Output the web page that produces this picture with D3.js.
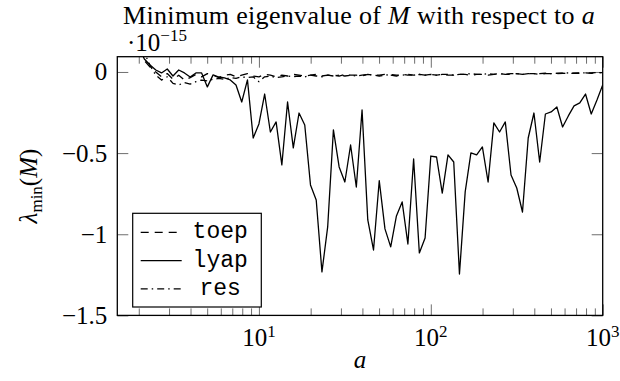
<!DOCTYPE html>
<html>
<head>
<meta charset="utf-8">
<script src="https://cdn.jsdelivr.net/npm/d3@7"></script>
<style>
  body { margin: 0; background: #fff; }
  text { font-family: "Liberation Serif", "Times New Roman", serif; fill: #000; }
  text.mono { font-family: "Liberation Mono", "DejaVu Sans Mono", monospace; }
  .axis path { display: none; }
  .axis line { stroke: #6e6e6e; stroke-width: 1; }
</style>
</head>
<body>
<svg id="chart"></svg>
<script>
// sample points a = 10^(k/30), k = 9..90
const aValues = [
  1.9953, 2.1544, 2.3263, 2.5119, 2.7123, 2.9286, 3.1623, 3.4146, 3.6869, 3.9811,
  4.2987, 4.6416, 5.0119, 5.4117, 5.8434, 6.3096, 6.8129, 7.3564, 7.9433, 8.5770,
  9.2612, 10, 10.798, 11.659, 12.589, 13.594, 14.678, 15.849, 17.113, 18.478,
  19.953, 21.544, 23.263, 25.119, 27.123, 29.286, 31.623, 34.146, 36.869, 39.811,
  42.987, 46.416, 50.119, 54.117, 58.434, 63.096, 68.129, 73.564, 79.433, 85.770,
  92.612, 100, 107.98, 116.59, 125.89, 135.94, 146.78, 158.49, 171.13, 184.78,
  199.53, 215.44, 232.63, 251.19, 271.23, 292.86, 316.23, 341.46, 368.69, 398.11,
  429.87, 464.16, 501.19, 541.17, 584.34, 630.96, 681.29, 735.64, 794.33, 857.70,
  926.12, 1000
];

// values in units of 1e-15
const toepValues = [
  0.14, 0.07, 0.03, 0.0, -0.03, -0.01, -0.045, -0.02, -0.05, -0.035,
  -0.015, -0.03, -0.01, -0.02, -0.035, -0.02, -0.015, -0.03, -0.02, -0.01,
  -0.025, -0.03, -0.015, -0.02, -0.03, -0.02, -0.025, -0.015, -0.02, -0.025,
  -0.02, -0.015, -0.025, -0.02, -0.02, -0.025, -0.015, -0.02, -0.02, -0.025,
  -0.015, -0.02, -0.02, -0.015, -0.02, -0.025, -0.015, -0.02, -0.02, -0.015,
  -0.02, -0.015, -0.02, -0.015, -0.02, -0.02, -0.015, -0.015, -0.02, -0.015,
  -0.015, -0.02, -0.015, -0.01, -0.015, -0.015, -0.01, -0.015, -0.01, -0.01,
  -0.015, -0.01, -0.01, -0.01, -0.008, -0.01, -0.008, -0.008, -0.006, -0.008,
  -0.005, -0.004
];

const lyapValues = [
  0.16, 0.08, 0.043, 0.012, -0.006, 0.018, -0.025, 0.012, -0.006, -0.031,
  -0.006, -0.006, -0.092, -0.018, -0.031, -0.037, -0.049, -0.08, -0.185, -0.049,
  -0.407, -0.32, -0.136, -0.37, -0.308, -0.573, -0.185, -0.468, -0.253, -0.327,
  -0.696, -0.789, -1.232, -0.955, -0.357, -0.585, -0.678, -0.45, -0.709, -0.234,
  -0.912, -1.097, -0.67, -0.967, -1.078, -0.887, -0.801, -1.06, -0.536, -1.115,
  -1.023, -0.518, -0.524, -0.746, -0.511, -0.555, -1.245, -0.739, -0.499, -0.511,
  -0.462, -0.678, -0.314, -0.37, -0.308, -0.635, -0.715, -0.863, -0.407, -0.253,
  -0.555, -0.259, -0.246, -0.216, -0.339, -0.271, -0.209, -0.191, -0.136, -0.259,
  -0.173, -0.08
];

const resValues = [
  0.25, 0.12, 0.04, -0.02, -0.05, -0.03, -0.07, -0.08, -0.065, -0.075,
  -0.06, -0.05, -0.055, -0.045, -0.04, -0.045, -0.035, -0.04, -0.03, -0.035,
  -0.03, -0.06, -0.03, -0.025, -0.035, -0.03, -0.025, -0.03, -0.025, -0.03,
  -0.02, -0.025, -0.03, -0.02, -0.025, -0.02, -0.025, -0.02, -0.025, -0.02,
  -0.015, -0.02, -0.025, -0.02, -0.015, -0.02, -0.02, -0.015, -0.02, -0.015,
  -0.02, -0.015, -0.02, -0.015, -0.015, -0.02, -0.015, -0.015, -0.01, -0.015,
  -0.015, -0.01, -0.015, -0.01, -0.015, -0.01, -0.01, -0.015, -0.01, -0.01,
  -0.01, -0.008, -0.01, -0.008, -0.008, -0.006, -0.008, -0.006, -0.005, -0.006,
  -0.004, -0.004
];

const seriesNames = ['toep', 'lyap', 'res'];
const seriesDash = ['8,6', null, '7,4,1.5,4'];

const yTickValues = [0, -0.5, -1, -1.5];
const yTickLabels = ['0', '\u22120.5', '\u22121', '\u22121.5'];
const xTickValues = [10, 100, 1000];
const xTickExponents = ['1', '2', '3'];

const width = 620, height = 381;
const margin = {top: 56.7, right: 17.3, bottom: 65.6, left: 117.3};
const innerW = width - margin.left - margin.right;
const innerH = height - margin.top - margin.bottom;

const svg = d3.select('#chart').attr('width', width).attr('height', height);

const x = d3.scaleLog().domain([1.5, 1000]).range([0, innerW]);
const y = d3.scaleLinear().domain([-1.5, 0.094]).range([innerH, 0]);

const chart = svg.append('g')
    .attr('transform', `translate(${margin.left},${margin.top})`);

chart.append('clipPath').attr('id', 'clip')
  .append('rect').attr('width', innerW).attr('height', innerH);

// minor ticks on the log axis (2..9 per decade)
const minorTicks = x.ticks().filter(d => !xTickValues.includes(d));

// ticks, all drawn inward
const tickMajor = 11, tickMinor = 7;
chart.append('g').attr('class', 'axis')
    .attr('transform', `translate(0,${innerH})`)
    .call(d3.axisBottom(x).tickValues(xTickValues).tickSize(-tickMajor).tickFormat(''));
chart.append('g').attr('class', 'axis')
    .attr('transform', `translate(0,${innerH})`)
    .call(d3.axisBottom(x).tickValues(minorTicks).tickSize(-tickMinor).tickFormat(''));
chart.append('g').attr('class', 'axis')
    .call(d3.axisTop(x).tickValues(xTickValues).tickSize(-tickMajor).tickFormat(''));
chart.append('g').attr('class', 'axis')
    .call(d3.axisTop(x).tickValues(minorTicks).tickSize(-tickMinor).tickFormat(''));
chart.append('g').attr('class', 'axis')
    .call(d3.axisLeft(y).tickValues(yTickValues).tickSize(-tickMajor).tickFormat(''));
chart.append('g').attr('class', 'axis')
    .attr('transform', `translate(${innerW},0)`)
    .call(d3.axisRight(y).tickValues(yTickValues).tickSize(-tickMajor).tickFormat(''));

// y tick labels
chart.append('g')
    .selectAll('text')
    .data(yTickValues)
  .join('text')
    .attr('x', -10)
    .attr('y', d => y(d) + 8.5)
    .attr('text-anchor', 'end')
    .style('font-size', '25px')
    .text((d, i) => yTickLabels[i]);

// x tick labels as 10^k
const xLabels = chart.append('g')
    .selectAll('text')
    .data(xTickValues)
  .join('text')
    .attr('x', d => x(d))
    .attr('y', innerH + 31)
    .attr('text-anchor', 'middle')
    .style('font-size', '25px');
xLabels.append('tspan').text('10');
xLabels.append('tspan')
    .attr('dy', -9)
    .style('font-size', '17px')
    .text((d, i) => xTickExponents[i]);

// series lines
const line = d3.line()
    .x(d => x(d[0]))
    .y(d => y(d[1]));

const allSeries = [toepValues, lyapValues, resValues];
const lines = chart.append('g').attr('clip-path', 'url(#clip)');
allSeries.forEach((vals, i) => {
  lines.append('path')
      .datum(aValues.map((a, j) => [a, vals[j]]))
      .attr('fill', 'none')
      .attr('stroke', '#000')
      .attr('stroke-width', 1.3)
      .attr('stroke-linejoin', 'round')
      .attr('stroke-dasharray', seriesDash[i])
      .attr('d', line);
});

// frame
chart.append('rect')
    .attr('width', innerW)
    .attr('height', innerH)
    .attr('fill', 'none')
    .attr('stroke', '#000')
    .attr('stroke-width', 1.3);

// legend
const legend = chart.append('g').attr('transform', 'translate(15.4,156.6)');
legend.append('rect')
    .attr('width', 128.6)
    .attr('height', 93.7)
    .attr('fill', '#fff')
    .attr('stroke', '#000')
    .attr('stroke-width', 1.2);
seriesNames.forEach((name, i) => {
  const ly = 19 + i * 28.3;
  legend.append('line')
      .attr('x1', 8).attr('x2', 49)
      .attr('y1', ly).attr('y2', ly)
      .attr('stroke', '#000')
      .attr('stroke-width', 1.3)
      .attr('stroke-dasharray', seriesDash[i]);
  legend.append('text')
      .attr('class', 'mono')
      .attr('x', 87.5)
      .attr('y', ly + 6)
      .attr('text-anchor', 'middle')
      .style('font-size', '23px')
      .text(name);
});

// title
const title = svg.append('text')
    .attr('x', 123)
    .attr('y', 24)
    .style('font-size', '26px')
    .style('letter-spacing', '0.33px');
title.append('tspan').text('Minimum eigenvalue of ');
title.append('tspan').style('font-style', 'italic').text('M');
title.append('tspan').text(' with respect to ');
title.append('tspan').style('font-style', 'italic').text('a');

// scale factor label
const scaleLbl = svg.append('text')
    .attr('x', 127)
    .attr('y', 51)
    .style('font-size', '25px');
scaleLbl.append('tspan').text('\u00b710');
scaleLbl.append('tspan').attr('dy', -10).style('font-size', '17px').text('\u221215');

// axis labels
svg.append('text')
    .attr('x', margin.left + innerW / 2)
    .attr('y', 368)
    .attr('text-anchor', 'middle')
    .style('font-size', '25px')
    .style('font-style', 'italic')
    .text('a');

const yLabel = svg.append('text')
    .attr('transform', `translate(37,${margin.top + innerH / 2}) rotate(-90)`)
    .attr('text-anchor', 'middle')
    .style('font-size', '25px');
yLabel.append('tspan').style('font-style', 'italic').text('\u03bb');
yLabel.append('tspan').attr('dy', 5).style('font-size', '17px').text('min');
yLabel.append('tspan').attr('dy', -5).text('(');
yLabel.append('tspan').style('font-style', 'italic').text('M');
yLabel.append('tspan').text(')');
</script>
</body>
</html>
